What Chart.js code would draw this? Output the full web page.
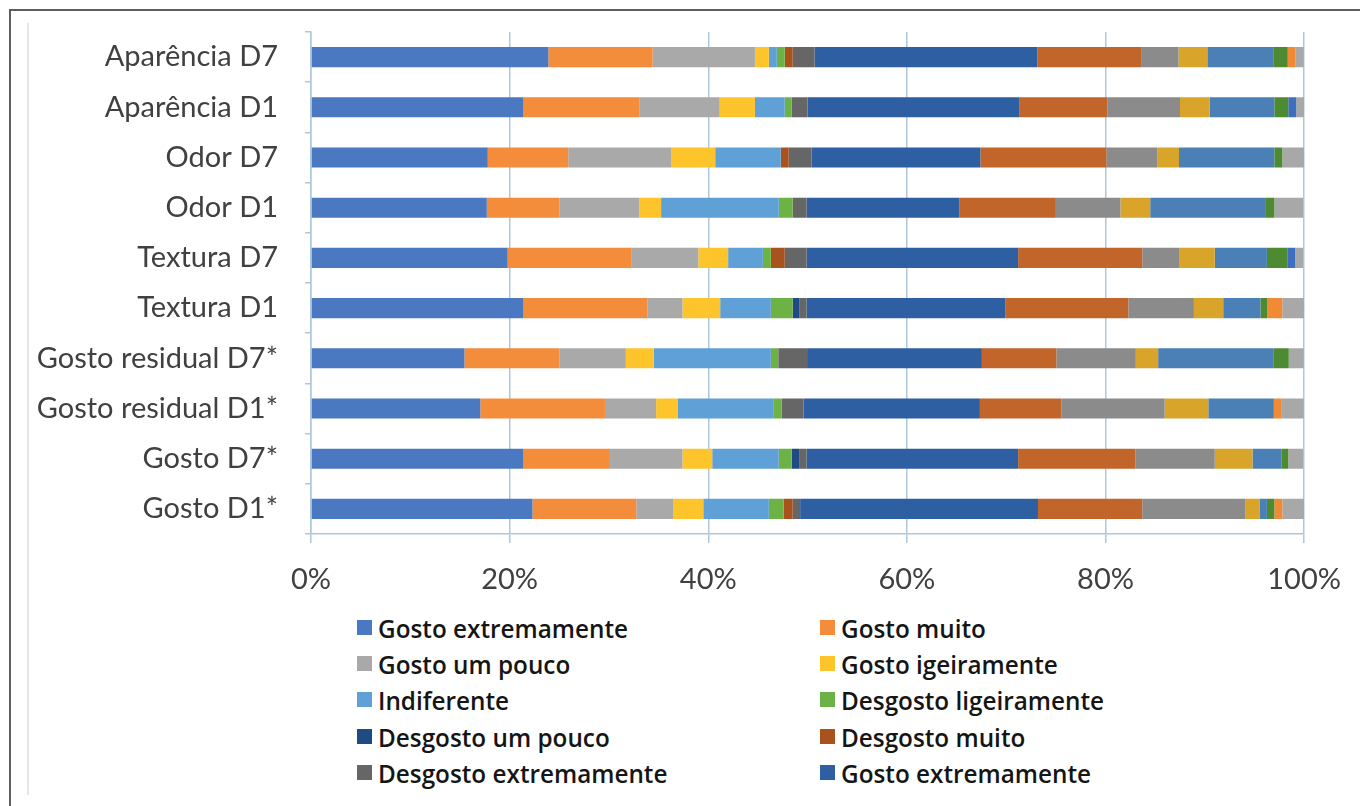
<!DOCTYPE html>
<html>
<head>
<meta charset="utf-8">
<script src="https://cdn.jsdelivr.net/npm/chart.js@4.4.1/dist/chart.umd.min.js"></script>
<style>
  body { margin:0; background:#fff; width:1360px; height:806px; overflow:hidden; position:relative; }
  #frame { position:absolute; left:9px; top:9px; width:1360px; height:820px; border-top:2px solid #5e5e5e; border-left:2px solid #5e5e5e; }
  #inner { position:absolute; left:27px; top:23px; width:2px; height:772px; background:#e1e7ec; }
  #wrap { position:absolute; left:0; top:0; width:1360px; height:600px; }
  #legend { position:absolute; left:0; top:0; }
  .item { position:absolute; height:30px; line-height:30px; font-family:"Open Sans",sans-serif; font-weight:600; font-size:25px; color:#151515; white-space:nowrap; }
  .item span.box { position:absolute; left:0; top:7px; width:15px; height:15px; }
  .item span.txt { position:absolute; left:21px; top:0; transform-origin:0 50%; }
</style>
</head>
<body>
<div id="frame"></div>
<div id="inner"></div>
<div id="wrap"><canvas id="myChart" width="1360" height="600"></canvas></div>
<div id="legend"></div>
<script>
var categories = ["Aparência D7","Aparência D1","Odor D7","Odor D1","Textura D7","Textura D1","Gosto residual D7*","Gosto residual D1*","Gosto D7*","Gosto D1*"]
var tickLabels = ["0%","20%","40%","60%","80%","100%"]

var seriesNames = ["Gosto extremamente","Gosto muito","Gosto um pouco","Gosto igeiramente","Indiferente","Desgosto ligeiramente","Desgosto um pouco","Desgosto muito","Desgosto extremamente",
    "Gosto extremamente","Gosto muito","Gosto um pouco","Gosto igeiramente","Indiferente","Desgosto ligeiramente","Desgosto um pouco","Desgosto muito","Desgosto extremamente"]
var shownInLegend = 10

// one array per series, values in %, same order as categories
var s1  = [23.9, 21.4, 17.8, 17.7, 19.8, 21.4, 15.45, 17.05, 21.4, 22.3]
var s2  = [10.5, 11.7, 8.1, 7.3, 12.5, 12.5, 9.55, 12.55, 8.7, 10.45]
var s3  = [10.3, 8.05, 10.4, 8.05, 6.7, 3.5, 6.7, 5.15, 7.3, 3.75]
var s4  = [1.4, 3.55, 4.4, 2.2, 3.0, 3.8, 2.8, 2.2, 3.0, 3.0]
var s5  = [0.8, 3.0, 6.6, 11.85, 3.5, 5.1, 11.8, 9.65, 6.7, 6.6]
var s6  = [0.8, 0.7, 0, 1.4, 0.8, 2.2, 0.75, 0.8, 1.3, 1.5]
var s7  = [0, 0, 0, 0, 0, 0.7, 0, 0, 0.75, 0]
var s8  = [0.8, 0, 0.8, 0, 1.4, 0, 0, 0, 0, 0.9]
var s9  = [2.2, 1.6, 2.3, 1.4, 2.2, 0.7, 2.9, 2.2, 0.75, 0.75]
var s10 = [22.45, 21.3, 17.0, 15.4, 21.3, 20.0, 17.6, 17.75, 21.3, 23.95]
var s11 = [10.5, 8.9, 12.7, 9.7, 12.5, 12.4, 7.5, 8.2, 11.8, 10.5]
var s12 = [3.7, 7.3, 5.1, 6.5, 3.7, 6.6, 8.0, 10.4, 8.0, 10.4]
var s13 = [2.9, 3.0, 2.2, 3.0, 3.6, 2.95, 2.25, 4.4, 3.8, 1.4]
var s14 = [6.7, 6.5, 9.6, 11.65, 5.25, 3.75, 11.65, 6.6, 2.9, 0.75]
var s15 = [1.4, 1.4, 0.8, 0.85, 2.05, 0.7, 1.5, 0, 0.7, 0.75]
var s16 = [0, 0.8, 0, 0, 0.8, 0, 0, 0, 0, 0]
var s17 = [0.8, 0, 0, 0, 0, 1.5, 0, 0.8, 0, 0.8]
var s18 = [0.8, 0.8, 2.2, 2.9, 0.8, 2.2, 1.5, 2.2, 1.5, 2.2]
var allSeries = [s1,s2,s3,s4,s5,s6,s7,s8,s9,s10,s11,s12,s13,s14,s15,s16,s17,s18]

var colors = ["#4a78c1","#f38d3c","#a9a9a9","#fec42c","#5fa0d6","#6cb244","#1f4b85","#a8521e","#666666",
    "#2f5fa3","#c2652a","#8b8b8b","#d8a52a","#4a80b5","#4e8a32","#3d6ec0","#f08a35","#a8a8a8"]

var gridColor = "#b0c7da"
var textColor = "#404040"

var datasets = []
allSeries.forEach((vals, i) => {
    datasets.push({
        label: seriesNames[i],
        data: vals,
        backgroundColor: colors[i],
        borderWidth: 0,
        barPercentage: 0.4,
        categoryPercentage: 1.0
    })
})

const ctx = document.getElementById("myChart");
var chart = new Chart(ctx, {
    type: "bar",
    data: { labels: categories, datasets: datasets },
    options: {
        indexAxis: "y",
        responsive: false,
        animation: false,
        layout: { padding: { left: 0, top: 32, right: 55, bottom: 6 } },
        plugins: { legend: { display: false }, tooltip: { enabled: false } },
        scales: {
            x: {
                stacked: true,
                min: 0, max: 100,
                afterFit: function(s){ s.height = 60 },
                ticks: {
                    stepSize: 20,
                    padding: 19,
                    color: textColor,
                    font: { family: "Lato", size: 29 },
                    callback: function(v){ return tickLabels[v/20] }
                },
                grid: { color: gridColor, lineWidth: 1.5, tickLength: 9 },
                border: { color: gridColor, width: 1.5 }
            },
            y: {
                stacked: true,
                afterFit: function(s){ s.width = 311; s.paddingTop = 0; s.paddingBottom = 0 },
                ticks: {
                    padding: 27,
                    color: textColor,
                    font: { family: "Lato", size: 29 }
                },
                grid: { drawOnChartArea: false, color: gridColor, lineWidth: 1.5, tickLength: 6 },
                border: { color: gridColor, width: 1.5 }
            }
        }
    }
});

// legend in two columns, like the original (condensed look)
var legend = document.getElementById("legend")
var colX = [357, 820]
var rowY = [613, 649, 685, 722, 758]
var m = document.createElement("canvas").getContext("2d")
m.font = "600 25px 'Open Sans'"
var squeeze = 250 / m.measureText("Gosto extremamente").width
for (let i = 0; i < shownInLegend; i++) {
    let item = document.createElement("div")
    item.className = "item"
    item.style.left = colX[i % 2] + "px"
    item.style.top = rowY[Math.floor(i / 2)] + "px"
    let box = document.createElement("span")
    box.className = "box"
    box.style.background = colors[i]
    let txt = document.createElement("span")
    txt.className = "txt"
    txt.textContent = seriesNames[i]
    txt.style.transform = "scaleX(" + squeeze + ")"
    item.appendChild(box)
    item.appendChild(txt)
    legend.appendChild(item)
}
</script>
</body>
</html>
